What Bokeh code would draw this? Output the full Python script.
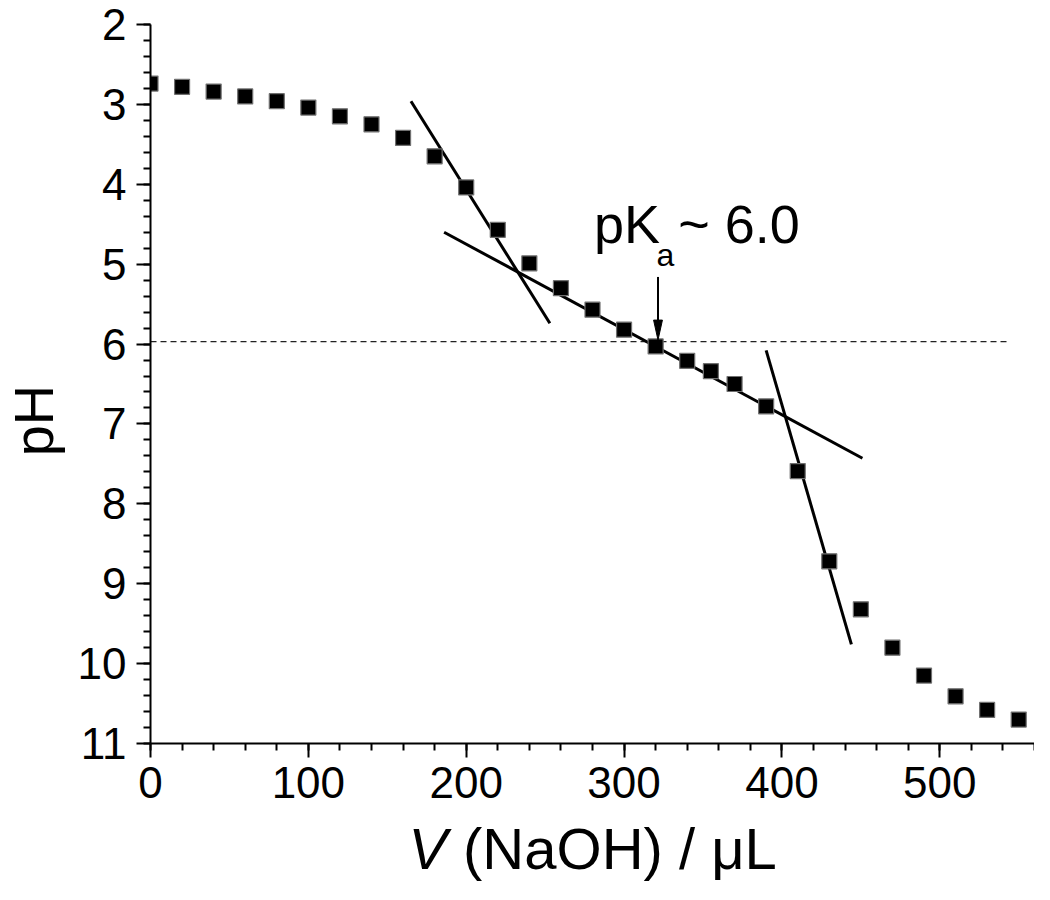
import math
from bokeh.plotting import figure
from bokeh.models import Range1d, FixedTicker, Label, ColumnDataSource
from bokeh.layouts import column, row
from bokeh.core.properties import value
from bokeh.embed import file_html
from bokeh.resources import INLINE

# ---- data ----
volume_uL = [0, 20, 40, 60, 80, 100, 120, 140, 160, 180, 200, 220, 240, 260, 280,
             300, 320, 340, 355, 370, 390, 410, 430, 450, 470, 490, 510, 530, 550]
ph_values = [2.74, 2.78, 2.84, 2.90, 2.96, 3.04, 3.15, 3.25, 3.42, 3.65, 4.04, 4.57,
             4.99, 5.30, 5.57, 5.82, 6.03, 6.21, 6.34, 6.50, 6.78, 7.59, 8.72, 9.32,
             9.80, 10.15, 10.41, 10.58, 10.70]

tangent_acid_x = [165, 253]
tangent_acid_y = [2.96, 5.74]
tangent_buffer_x = [186, 451]
tangent_buffer_y = [4.60, 7.43]
tangent_base_x = [390, 444]
tangent_base_y = [6.08, 9.76]

pka_line_x = [0, 543]
pka_line_y = [5.97, 5.97]

arrow_x = 321.5
arrow_y_start = 5.16
arrow_y_tip = 5.95

x_major = [0, 100, 200, 300, 400, 500]
x_minor = list(range(0, 561, 20))
y_major = [2, 3, 4, 5, 6, 7, 8, 9, 10, 11]
y_minor = [round(2 + 0.2 * i, 1) for i in range(0, 46)]

x_title_italic = "V"
x_title_rest = "(NaOH) / \u03bcL"
y_title = "pH"

FONT = "Liberation Sans"

LEFT_W = 70
MAIN_W = 964
MAIN_H = 817
BOTTOM_H = 67

x_range = Range1d(0, 560)

p = figure(width=MAIN_W, height=MAIN_H, output_backend="svg", toolbar_location=None,
           x_range=x_range, y_range=Range1d(11, 2),
           min_border_left=80, min_border_right=0, min_border_top=24,
           min_border_bottom=74)
p.outline_line_color = None
p.grid.visible = False

for ax in (p.xaxis[0], p.yaxis[0]):
    ax.axis_line_width = 2
    ax.axis_line_color = "black"
    ax.major_tick_line_width = 2
    ax.minor_tick_line_width = 2
    ax.major_tick_line_color = "black"
    ax.minor_tick_line_color = "black"
    ax.major_tick_in = 0
    ax.major_tick_out = 14
    ax.minor_tick_in = 0
    ax.minor_tick_out = 7
    ax.major_label_text_font = FONT
    ax.major_label_text_font_size = "44px"
    ax.major_label_text_color = "black"

p.xaxis[0].ticker = FixedTicker(ticks=x_major, minor_ticks=x_minor)
p.yaxis[0].ticker = FixedTicker(ticks=y_major, minor_ticks=y_minor)
p.xaxis[0].major_label_standoff = 9
p.yaxis[0].major_label_standoff = 10

# dashed pKa level
p.line(pka_line_x, pka_line_y, line_color="#222222", line_width=1.3, line_dash="6 4")

# tangent lines
for tx, ty in ((tangent_acid_x, tangent_acid_y),
               (tangent_buffer_x, tangent_buffer_y),
               (tangent_base_x, tangent_base_y)):
    p.line(tx, ty, line_color="black", line_width=3)

# data points
src = ColumnDataSource(dict(v=volume_uL, ph=ph_values))
p.scatter("v", "ph", source=src, marker="square", size=15,
          fill_color="black", line_color="#707070", line_width=1.2)

# arrow
head_len = 0.25
head_half = 2.8
p.line([arrow_x, arrow_x], [arrow_y_start, arrow_y_tip - head_len / 2],
       line_color="black", line_width=2)
p.patch([arrow_x - head_half, arrow_x + head_half, arrow_x],
        [arrow_y_tip - head_len, arrow_y_tip - head_len, arrow_y_tip],
        fill_color="black", line_color="black", line_width=1)

# pKa annotation
p.add_layout(Label(x=281, y=4.50, text="pK", text_font=FONT, text_font_size="54px",
                   text_color="black", text_baseline="alphabetic", text_align="left"))
p.add_layout(Label(x=320.6, y=4.89, text="a", text_font=FONT, text_font_size="32px",
                   text_color="black", text_baseline="alphabetic", text_align="left"))
p.add_layout(Label(x=334.3, y=4.50, text="~ 6.0", text_font=FONT, text_font_size="54px",
                   text_color="black", text_baseline="alphabetic", text_align="left"))

# strip below the plot carrying the x-axis title (italic V + upright rest)
bottom = figure(width=MAIN_W, height=BOTTOM_H, output_backend="svg", toolbar_location=None,
                x_range=x_range, y_range=Range1d(0, BOTTOM_H),
                x_axis_location=None, y_axis_location=None,
                min_border_left=80, min_border_right=0, min_border_top=0,
                min_border_bottom=0)
bottom.outline_line_color = None
bottom.grid.visible = False
bottom.text(x=[163.4], y=[36], text=[x_title_italic], text_font=value(FONT),
            text_font_size="58px", text_font_style="italic", text_color="black",
            text_baseline="alphabetic", text_align="left")
bottom.text(x=[198.0], y=[36], text=[x_title_rest], text_font=value(FONT),
            text_font_size="58px", text_color="black",
            text_baseline="alphabetic", text_align="left")

# strip left of the plot carrying the y-axis title
left = figure(width=LEFT_W, height=MAIN_H + BOTTOM_H, output_backend="svg",
              toolbar_location=None,
              x_range=Range1d(0, LEFT_W), y_range=Range1d(0, MAIN_H + BOTTOM_H),
              x_axis_location=None, y_axis_location=None,
              min_border_left=0, min_border_right=0, min_border_top=0,
              min_border_bottom=0)
left.outline_line_color = None
left.grid.visible = False
left.text(x=[33], y=[464], text=[y_title], angle=math.pi / 2, text_font=value(FONT),
          text_font_size="56px", text_color="black",
          text_baseline="alphabetic", text_align="center")

layout = row(left, column(p, bottom, spacing=0), spacing=0)
open("out.html", "w").write(file_html(layout, INLINE))
